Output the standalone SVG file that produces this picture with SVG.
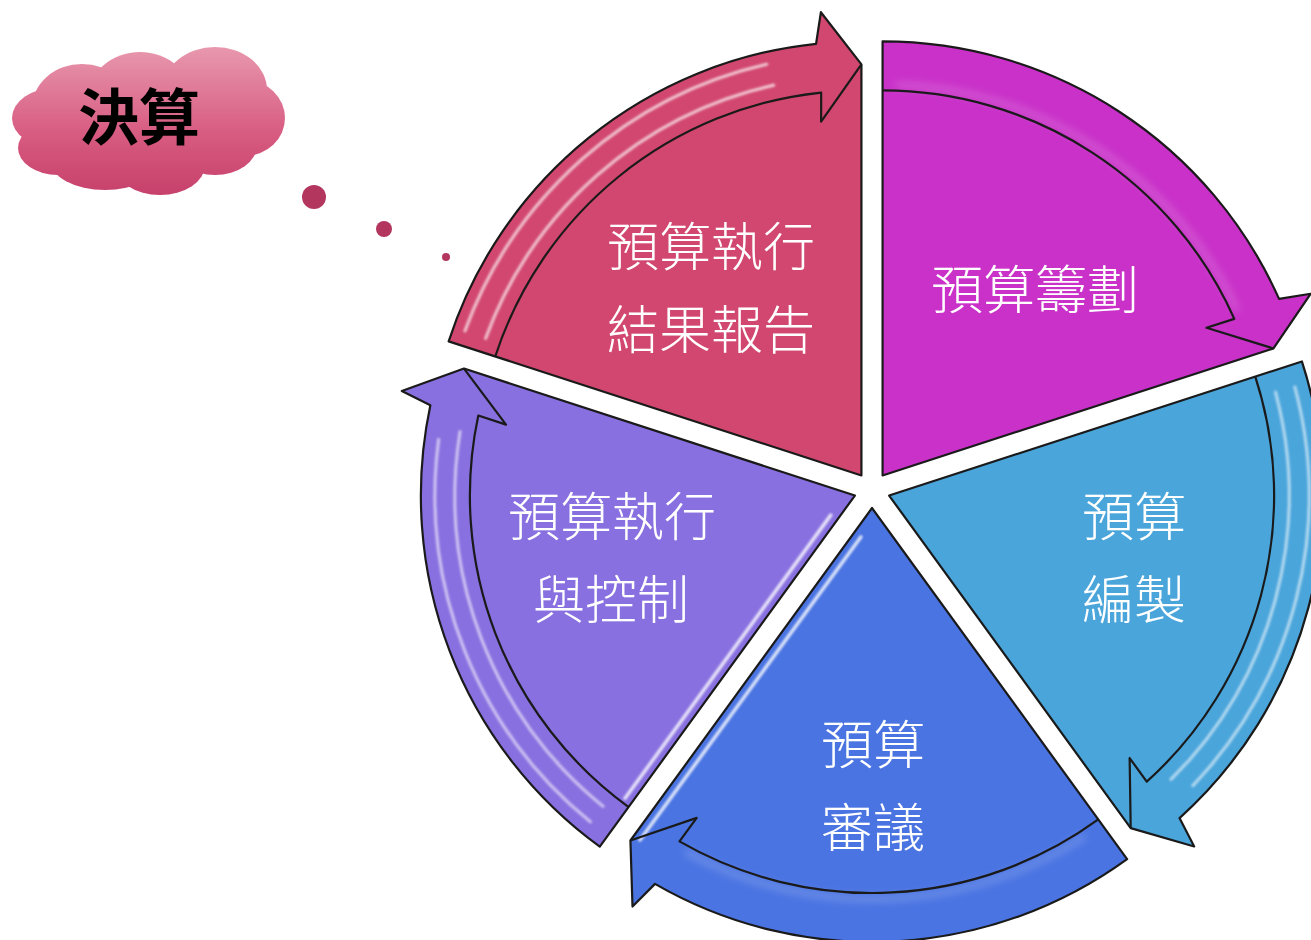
<svg xmlns="http://www.w3.org/2000/svg" width="1311" height="940" viewBox="0 0 1311 940">
<defs>
<linearGradient id="cloudG" gradientUnits="userSpaceOnUse" x1="0" y1="47" x2="0" y2="195">
<stop offset="0" stop-color="#E898AE"/>
<stop offset="0.6" stop-color="#D75A80"/>
<stop offset="1" stop-color="#C6416B"/>
</linearGradient>
<filter id="soft" x="-10%" y="-10%" width="120%" height="120%"><feGaussianBlur stdDeviation="1.2"/></filter>
<filter id="glow" x="-10%" y="-10%" width="120%" height="120%"><feGaussianBlur stdDeviation="4"/></filter>
<style>
.slice{stroke:#1a1a1a;stroke-width:2.2;stroke-linejoin:round}
.inner{fill:none;stroke:#1a1a1a;stroke-width:2.2;stroke-linejoin:round}
.hl{fill:none;stroke:#ffffff;stroke-linecap:round;filter:url(#soft)}
.gl{fill:none;stroke:#ffffff;filter:url(#glow)}
.lbl{font-family:"Noto Sans CJK TC","Noto Sans CJK SC",sans-serif;font-size:52px;font-weight:300;fill:#ffffff;text-anchor:middle}
.dot{fill:#B3365F}
</style>
</defs>
<rect width="1311" height="940" fill="#ffffff"/>

<g id="cloud">
<g fill="url(#cloudG)">
<ellipse cx="82" cy="108" rx="50" ry="44"/>
<ellipse cx="140" cy="98" rx="52" ry="46"/>
<ellipse cx="215" cy="90" rx="52" ry="43"/>
<ellipse cx="245" cy="118" rx="40" ry="38"/>
<ellipse cx="55" cy="118" rx="43" ry="30"/>
<ellipse cx="58" cy="148" rx="40" ry="27"/>
<ellipse cx="105" cy="160" rx="55" ry="30"/>
<ellipse cx="160" cy="165" rx="45" ry="30"/>
<ellipse cx="215" cy="145" rx="42" ry="30"/>
<ellipse cx="150" cy="125" rx="100" ry="45"/>
</g>
<text x="139" y="140" font-family="'Noto Sans CJK TC','Noto Sans CJK SC',sans-serif" font-size="61" font-weight="bold" fill="#000000" text-anchor="middle">決算</text>
</g>
<g id="dots">
<circle class="dot" cx="314" cy="197" r="12"/>
<circle class="dot" cx="384" cy="229" r="8"/>
<circle class="dot" cx="446" cy="257" r="4"/>
</g>

<g id="slice-pink">
<path class="slice" fill="#D2476F" d="M861.42,475.44 L448.66,341.33 A434,434 0 0 1 816.05,43.82 L820.89,12.21 L861.42,64.44 Z"/>
<circle class="hl" cx="861.42" cy="475.44" r="400" stroke-width="3" opacity="0.7" stroke-dasharray="400 5000" transform="rotate(200 861.42 475.44)"/>
<circle class="hl" cx="861.42" cy="475.44" r="422" stroke-width="3" opacity="0.7" stroke-dasharray="420 5000" transform="rotate(200 861.42 475.44)"/>
<line class="hl" x1="853" y1="105" x2="853" y2="455" stroke="#F6A8C4" stroke-width="4" opacity="0.8"/>
<path class="inner" d="M495.26,356.47 A385,385 0 0 1 821.18,92.55 L821.12,121.73 L861.42,64.44"/>
<text class="lbl" x="711" y="266">預算執行</text>
<text class="lbl" x="711" y="349">結果報告</text>
</g>

<g id="slice-magenta">
<path class="slice" fill="#C931C8" d="M882.58,475.44 L882.58,41.44 A434,434 0 0 1 1279.06,298.91 L1310.61,293.75 L1273.47,348.43 Z"/>
<circle class="gl" cx="882.58" cy="475.44" r="391" stroke-width="4" opacity="0.3" stroke-dasharray="430 5000" transform="rotate(272 882.58 475.44)"/>
<line class="hl" x1="890" y1="100" x2="890" y2="458" stroke="#F0A0F0" stroke-width="4" opacity="0.7"/>
<path class="inner" d="M882.58,90.44 A385,385 0 0 1 1234.30,318.85 L1206.53,327.81 L1273.47,348.43"/>
<text class="lbl" x="1035" y="309">預算籌劃</text>
</g>

<g id="slice-lightblue">
<path class="slice" fill="#4AA5DB" d="M889.12,495.56 L1301.88,361.45 A434,434 0 0 1 1179.52,818.08 L1194.19,846.50 L1130.70,828.07 Z"/>
<circle class="hl" cx="889.12" cy="495.56" r="400" stroke-width="3" opacity="0.6" stroke-dasharray="420 5000" transform="rotate(345 889.12 495.56)"/>
<circle class="hl" cx="889.12" cy="495.56" r="420" stroke-width="3" opacity="0.6" stroke-dasharray="430 5000" transform="rotate(345 889.12 495.56)"/>
<path class="inner" d="M1255.28,376.59 A385,385 0 0 1 1146.74,781.67 L1129.63,758.03 L1130.70,828.07"/>
<text class="lbl" x="1134" y="536">預算</text>
<text class="lbl" x="1134" y="619">編製</text>
</g>

<g id="slice-blue">
<path class="slice" fill="#4A74E2" d="M872,508 L1127.10,859.11 A434,434 0 0 1 655,883.86 L632.51,906.58 L630.42,840.51 Z"/>
<circle class="gl" cx="872" cy="508" r="391" stroke-width="4" opacity="0.3" stroke-dasharray="420 5000" transform="rotate(57 872 508)"/>
<line class="hl" x1="860.84" y1="536.97" x2="640" y2="840" stroke="#A8C8FF" stroke-width="3.5" opacity="0.8"/>
<path class="inner" d="M1098.30,819.47 A385,385 0 0 1 679.5,841.42 L696.70,817.85 L630.42,840.51"/>
<text class="lbl" x="873" y="764">預算</text>
<text class="lbl" x="873" y="847">審議</text>
</g>

<g id="slice-purple">
<path class="slice" fill="#8870E0" d="M854.88,495.56 L599.78,846.67 A434,434 0 0 1 430.36,405.33 L401.80,390.96 L463.99,368.55 Z"/>
<circle class="hl" cx="854.88" cy="495.56" r="400" stroke-width="3" opacity="0.6" stroke-dasharray="420 5000" transform="rotate(129 854.88 495.56)"/>
<circle class="hl" cx="854.88" cy="495.56" r="420" stroke-width="3" opacity="0.6" stroke-dasharray="430 5000" transform="rotate(129 854.88 495.56)"/>
<line class="hl" x1="830.78" y1="515.13" x2="625.05" y2="798.29" stroke="#D8C8FF" stroke-width="3.5" opacity="0.8"/>
<path class="inner" d="M628.58,807.03 A385,385 0 0 1 478.29,415.51 L506.03,424.58 L463.99,368.55"/>
<text class="lbl" x="612" y="536">預算執行</text>
<text class="lbl" x="611" y="619">與控制</text>
</g>
</svg>
